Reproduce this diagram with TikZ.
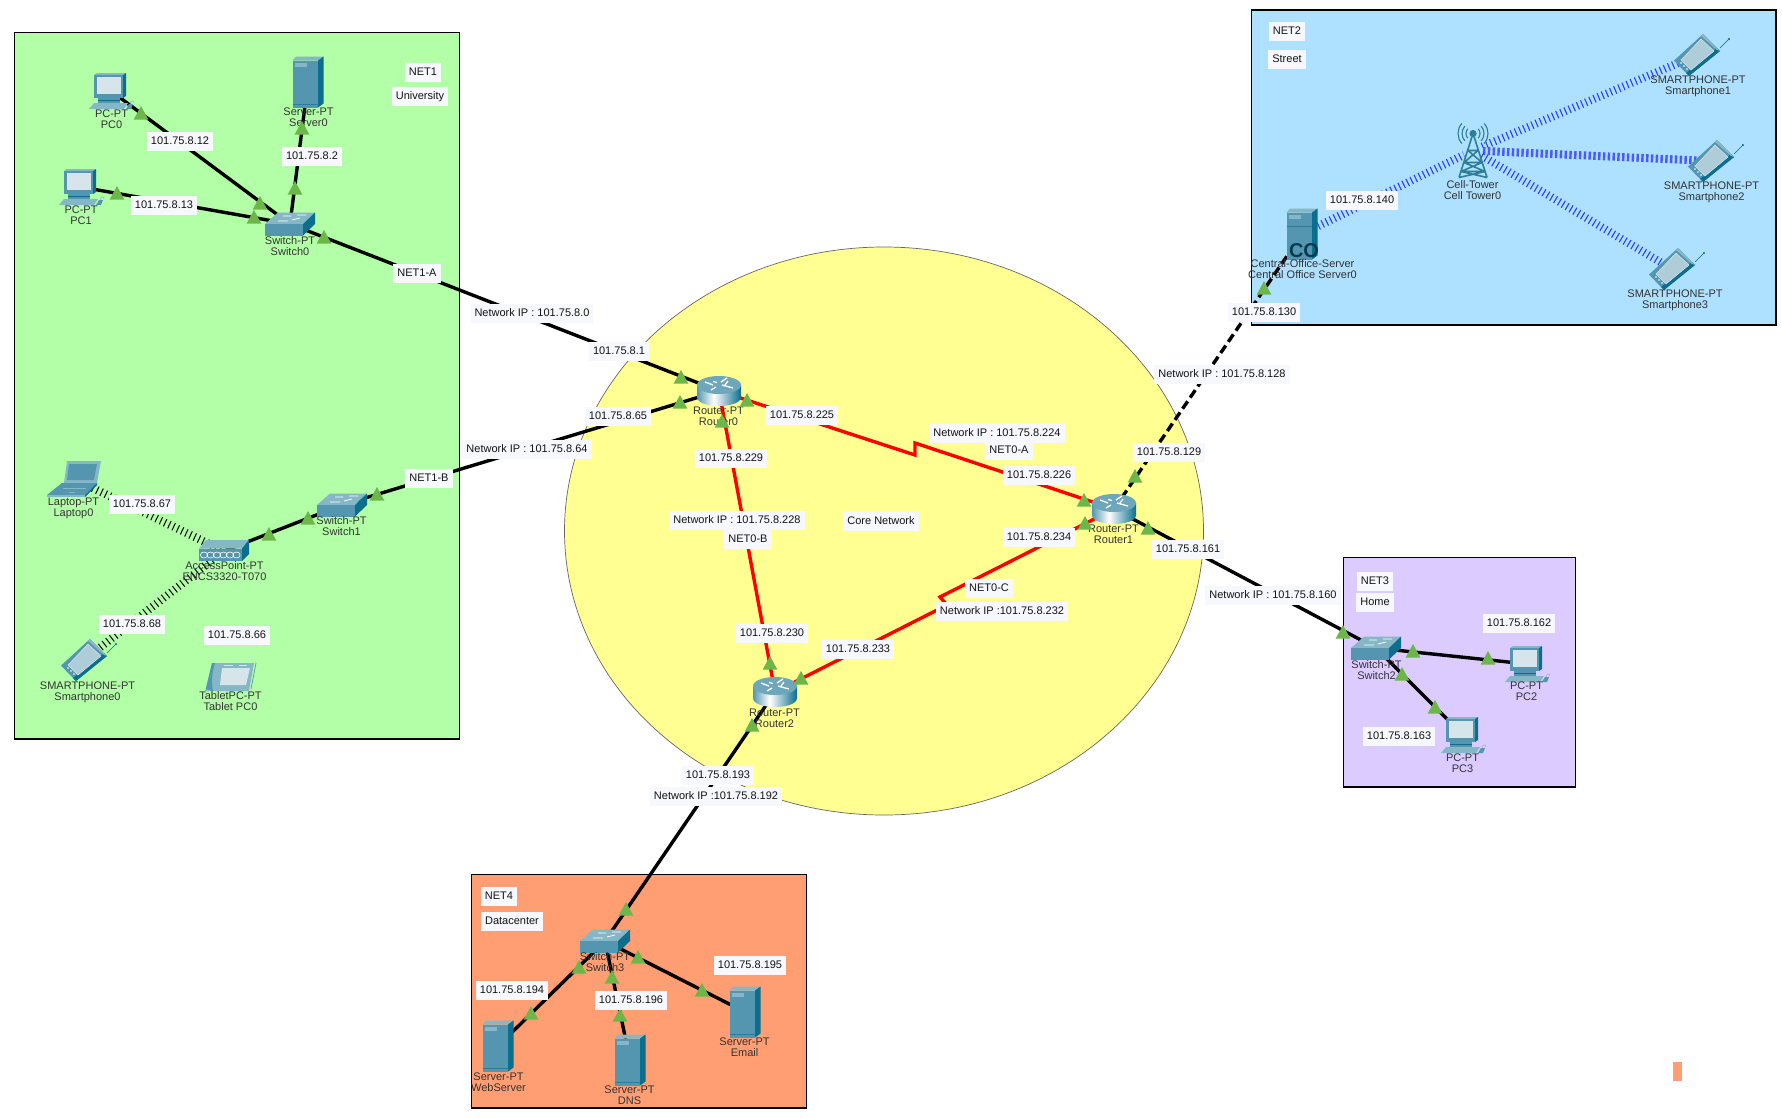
\documentclass[tikz,border=0pt]{standalone}
\usepackage{fontspec}
\setmainfont{Liberation Sans}
\definecolor{netA}{HTML}{B3FFA7}
\definecolor{netB}{HTML}{AEE0FF}
\definecolor{netC}{HTML}{DCCBFF}
\definecolor{netD}{HTML}{FF9E72}
\definecolor{coreY}{HTML}{FFFF92}
\definecolor{labbg}{HTML}{F7F8FD}
\definecolor{tricol}{HTML}{6DB649}
\definecolor{icF}{HTML}{5496B0}
\definecolor{icS}{HTML}{0A6E8C}
\definecolor{icT}{HTML}{86B7C7}
\definecolor{icL}{HTML}{D5E5EA}
\definecolor{twr}{HTML}{2E7F93}
\definecolor{wblue}{HTML}{2B3DFF}
\pgfdeclarehorizontalshading{routerbody}{100bp}{color(0bp)=(icF); color(25bp)=(icF); color(44bp)=(white); color(75bp)=(icS); color(100bp)=(icS)}
\pgfdeclarelayer{bg}
\pgfdeclarelayer{links}
\pgfdeclarelayer{top}
\pgfsetlayers{bg,links,main,top}
\tikzset{
  x=1pt,y=-1pt,
  netbox/.style={draw=black,line width=1.1pt},
  eth/.style={draw=black,line width=3.4pt},
  ethdash/.style={draw=black,line width=3.4pt,dash pattern=on 9pt off 4.5pt},
  serial/.style={draw=red,line width=3.4pt},
  wblack/.style={draw=black,line width=8pt,dash pattern=on 1pt off 3.7pt},
  wb/.style={draw=wblue,line width=8pt,dash pattern=on 1.1pt off 3.4pt},
  wbfat/.style={draw=wblue!85!white,line width=8pt,dash pattern=on 2.4pt off 2.4pt},
  lab/.style={fill=labbg,inner xsep=4pt,inner ysep=3.5pt,text height=9.3pt,text depth=2.7pt,text=black!92,font=\fontsize{11}{11}\selectfont},
  devbox/.style={inner sep=0pt,outer sep=0pt},
  devtext/.style={align=center,inner sep=0pt,text=black!80,font=\fontsize{11}{11}\selectfont},
  pcicondev/.style={minimum width=44pt,minimum height=35pt},
  servericondev/.style={minimum width=31pt,minimum height=51pt},
  switchicondev/.style={minimum width=49pt,minimum height=23pt},
  routericondev/.style={minimum width=44pt,minimum height=30pt},
  laptopicondev/.style={minimum width=54pt,minimum height=36pt},
  phoneicondev/.style={minimum width=46pt,minimum height=42pt},
  tableticondev/.style={minimum width=51pt,minimum height=29pt},
  apicondev/.style={minimum width=50pt,minimum height=21pt},
  towericondev/.style={minimum width=31pt,minimum height=55pt},
  coicondev/.style={minimum width=31pt,minimum height=51pt},
  pcicon/.pic={
    \fill[icT] (-17,-16)--(-14,-18)--(15,-18)--(12,-16)--cycle;
    \fill[icF] (-17,-16) rectangle (12,7);
    \fill[icS] (12,-16)--(15,-18)--(15,5)--(12,7)--cycle;
    \fill[icL] (-14,-14) rectangle (10,3);
    \fill[icF] (-13,7) rectangle (9,12);
    \fill[icS] (-13,9) rectangle (9,10);
    \fill[icT] (-22,18)--(-17,12)--(17,12)--(13,18)--cycle;
    \fill[icF] (15,18)--(18,13)--(22,13)--(20,18)--cycle;
    \draw[icT,line width=.5pt] (19,13) .. controls (20,9) and (23,9) .. (23,12);
  },
  servericon/.pic={
    \fill[icT] (-15.5,-21.5)--(-12,-25.5)--(15.5,-25.5)--(10,-21.5)--cycle;
    \fill[icF] (-15.5,-21.5) rectangle (10,25.5);
    \fill[icS] (10,-21.5)--(15.5,-25.5)--(15.5,21.5)--(10,25.5)--cycle;
    \fill[icT] (-13,-19) rectangle (-1,-15);
    \draw[icS!60!icF,line width=.5pt] (-15.5,22)--(10,22);
  },
  switchicon/.pic={
    \fill[icT] (-25,0)--(-12,-11.5)--(25,-11.5)--(13,0)--cycle;
    \fill[icF] (-25,0) rectangle (13,11.5);
    \fill[icS] (13,0)--(25,-11.5)--(25,0)--(13,11.5)--cycle;
    \draw[white,line width=.8pt] (-7,-8)--(1,-8) (7,-9)--(16,-9) (-12,-3)--(-2,-3) (2,-4)--(10,-6);
  },
  routericon/.pic={
    \shade[shading=routerbody] (-22,-6)--(-22,6) .. controls (-22,18) and (22,18) .. (22,6)--(22,-6)--cycle;
    \fill[icF!85!white] (0,-6) ellipse [x radius=22pt,y radius=9pt];
    \draw[white,line width=1.3pt] (-14,-9)--(-6,-6) (3,-6)--(14,-3) (2,-9)--(8,-13) (-3,-4)--(-8,-1) (-6,-9.5)--(-2,-8.5) (6,-6)--(9,-10);
  },
  laptopicon/.pic={
    \fill[icT] (-10,4)--(-7,-18)--(27,-18)--(23,4)--cycle;
    \fill[icF] (-7,1)--(-5,-15)--(23,-15)--(20,1)--cycle;
    \fill[icF] (-27,16)--(-12,4)--(23,4)--(11,16)--cycle;
    \fill[icT] (-27,16) rectangle (11,18);
    \fill[icS] (11,18)--(11,16)--(23,4)--(23,6)--cycle;
    \draw[icT,line width=.8pt] (-11,9)--(12,9) (-5,13)--(1,13);
  },
  phoneicon/.pic={
    \fill[icF] (-23,5.6)--(6,-21)--(23,-4)--(-8,21)--cycle;
    \fill[icS] (-8,21)--(23,-4)--(20,-7)--(-11,18)--cycle;
    \fill[icT] (6,-21)--(23,-4)--(20,-5)--(4,-19)--cycle;
    \fill[icL!70!icF,draw=icL,line width=.5pt] (-16,5)--(4,-16)--(17,-4)--(-6,15)--cycle;
    \fill[white] (-16,8) circle (.8pt) (-13,11) circle (.8pt) (-10,14) circle (.8pt);
    \draw[icS,line width=.6pt] (23,-7)--(32,-16);
    \fill[icS] (32,-16) circle (1.1pt);
  },
  tableticon/.pic={
    \fill[icT] (-26,14)--(-19,-14)--(23,-14)--(18,14)--cycle;
    \fill[icF] (-25,12)--(-19,-14)--(-16,-14) .. controls (-19,-4) and (-20,4) .. (-18,14)--cycle;
    \fill[icL] (-9,-9)--(19,-9)--(15,8)--(-11,8)--cycle;
    \draw[icF,line width=.7pt] (25,-14)--(20,12);
    \draw[icL,line width=.7pt] (-7,-12)--(2,-12) (8,-12)--(16,-12);
  },
  apicon/.pic={
    \fill[icT] (-25,-2.5)--(-18,-11)--(25,-11)--(18,-2.5)--cycle;
    \fill[icF] (-25,-2.5) rectangle (18,10);
    \fill[icS] (18,-2.5)--(25,-11)--(25,3)--(18,10)--cycle;
    \foreach \k in {-20,-13.5,-7,-0.5,6,12.5}
      \draw[white,line width=.6pt] (\k,4) ellipse [x radius=3.6pt,y radius=3pt];
  },
  towericon/.pic={
    \draw[twr,line width=1.6pt] (-1,-14)--(-14,27) (1,-14)--(14,27) (-9,12)--(9,12) (-5,0)--(5,0) (-9,12)--(5,0) (9,12)--(-5,0) (-12,21)--(12,21) (-12,21)--(9,12) (12,21)--(-9,12) (-14,27)--(12,21) (14,27)--(-12,21);
    \fill[twr] (0,-17) circle (3.6pt);
    \foreach \r in {7,11,15}{
      \draw[twr,line width=1.1pt] (0,-17) ++(-42:\r pt) arc (-42:42:\r pt);
      \draw[twr,line width=1.1pt] (0,-17) ++(138:\r pt) arc (138:222:\r pt);
    }
  },
  coicon/.pic={
    \fill[icT] (-15.5,-21.5)--(-12,-25.5)--(15.5,-25.5)--(10,-21.5)--cycle;
    \fill[icF] (-15.5,-21.5) rectangle (10,25.5);
    \fill[icS] (10,-21.5)--(15.5,-25.5)--(15.5,21.5)--(10,25.5)--cycle;
    \fill[icT] (-13,-19) rectangle (-1,-15);
    \draw[icS!60!icF,line width=.5pt] (-15.5,-8)--(10,-8);
    \node[inner sep=0pt,text=icS!55!black,font=\fontsize{20}{20}\selectfont\bfseries] (cotext) at (2,17) {CO};
  },
}
\newcommand{\dev}[7]{%
  \node[devbox,#4dev] (#1) at (#2,#3) {};
  \pic at (#1.center) {#4};
  \node[devtext] (#1t) at (#5,#6) {#7};
}
\begin{document}
\begin{tikzpicture}
\useasboundingbox (0,0) rectangle (1782,1117);
\begin{pgfonlayer}{bg}
  \fill[white] (0,0) rectangle (1782,1117);
  \draw[draw=black!60,fill=coreY,line width=.7pt] (884,531) ellipse [x radius=319.5pt,y radius=284pt];
  \draw[netbox,fill=netA] (14.5,32.5) rectangle (459.5,739);
  \draw[netbox,fill=netB] (1251.5,10) rectangle (1776,325);
  \draw[netbox,fill=netC] (1343.5,557.5) rectangle (1575.5,787);
  \draw[netbox,fill=netD] (471.5,874.5) rectangle (806.5,1108);
  \fill[netD] (1673,1062) rectangle (1682,1081);
\end{pgfonlayer}

% devices
\dev{pcz}{111}{91}{pcicon}{111.5}{119.5}{PC-PT\\PC0}
\dev{pca}{81}{187}{pcicon}{81}{215.5}{PC-PT\\PC1}
\dev{srvz}{308}{82}{servericon}{308.5}{117.5}{Server-PT\\Server0}
\dev{swz}{290}{224}{switchicon}{290}{246.5}{Switch-PT\\Switch0}
\dev{lapz}{74}{479}{laptopicon}{73.5}{508.5}{Laptop-PT\\Laptop0}
\dev{swa}{342}{505}{switchicon}{341.5}{526.5}{Switch-PT\\Switch1}
\dev{apz}{224}{551}{apicon}{224.5}{571.5}{AccessPoint-PT\\ENCS3320-T070}
\dev{phz}{84}{660}{phoneicon}{87.5}{692.5}{SMARTPHONE-PT\\Smartphone0}
\dev{tabz}{231}{677}{tableticon}{230.5}{701.5}{TabletPC-PT\\Tablet PC0}
\dev{coz}{1302}{234}{coicon}{1302.5}{269.5}{Central-Office-Server\\Central Office Server0}
\dev{twz}{1473}{150.5}{towericon}{1472.5}{190.5}{Cell-Tower\\Cell Tower0}
\dev{pha}{1697}{55}{phoneicon}{1698}{86.5}{SMARTPHONE-PT\\Smartphone1}
\dev{phb}{1711}{161}{phoneicon}{1711.5}{192.5}{SMARTPHONE-PT\\Smartphone2}
\dev{phc}{1672}{269}{phoneicon}{1675}{300.5}{SMARTPHONE-PT\\Smartphone3}
\dev{rz}{719}{391}{routericon}{718.5}{416.5}{Router-PT\\Router0}
\dev{ra}{1114}{509}{routericon}{1113.5}{534.5}{Router-PT\\Router1}
\dev{rb}{775}{692}{routericon}{774.5}{718.5}{Router-PT\\Router2}
\dev{swb}{1376}{648}{switchicon}{1376.5}{670.5}{Switch-PT\\Switch2}
\dev{pcb}{1527}{664}{pcicon}{1526.5}{691.5}{PC-PT\\PC2}
\dev{pcc}{1463}{735}{pcicon}{1462.5}{763.5}{PC-PT\\PC3}
\dev{swc}{605}{941}{switchicon}{605}{962.5}{Switch-PT\\Switch3}
\dev{srva}{498}{1046}{servericon}{498.5}{1082.5}{Server-PT\\WebServer}
\dev{srvb}{630}{1060}{servericon}{629.5}{1095.5}{Server-PT\\DNS}
\dev{srvc}{745}{1012}{servericon}{744.5}{1047.5}{Server-PT\\Email}

\coordinate (zaa) at (915,455);
\coordinate (zab) at (915,443);
\coordinate (zca) at (940,597);
\coordinate (zcb) at (947,605);

\begin{pgfonlayer}{links}
  \draw[eth] (pcz.center)--(swz.center);
  \draw[eth] (pca.center)--(swz.center);
  \draw[eth] (srvz.center)--(swz.center);
  \draw[eth] (swz.center)--(rz.center);
  \draw[eth] (apz.center)--(swa.center);
  \draw[eth] (swa.center)--(rz.center);
  \draw[wblack,shorten <=16pt] (lapz.center)--(apz.center);
  \draw[wblack,shorten <=16pt] (phz.center)--(apz.center);
  \draw[ethdash] (ra.center)--(coz.center);
  \draw[eth] (ra.center)--(swb.center);
  \draw[eth] (swb.center)--(pcb.center);
  \draw[eth] (swb.center)--(pcc.center);
  \draw[eth] (rb.center)--(swc.center);
  \draw[eth] (swc.center)--(srva.center);
  \draw[eth] (swc.center)--(srvb.center);
  \draw[eth] (swc.center)--(srvc.center);
  \draw[serial] (rz.center)--(zaa)--(zab)--(ra.center);
  \draw[serial] (rz.center)--(rb.center);
  \draw[serial] (ra.center)--(zca)--(zcb)--(rb.center);
  \draw[wb,shorten >=10pt] (coz.center)--(twz.center);
  \draw[wb,shorten <=10pt] (twz.center)--(pha.center);
  \draw[wbfat,shorten <=10pt] (twz.center)--(phb.center);
  \draw[wb,shorten <=10pt] (twz.center)--(phc.center);
\end{pgfonlayer}

\begin{pgfonlayer}{top}
  \foreach \tx/\ty in {141/113,117/193,260/203,254/217,295/188,302/128,324/237,
    269/534,308/518,377/494,681/377,680/402,747/400,722/421,1084/500,1085/523,
    1148/528,770/663,801/678,752/725,1135/476,1264/288,1343/632,1413/651,1488/658,
    1402/674,1435/707,626/909,638/957,579/967,612/977,620/1015,702/990,531/1013}
    \fill[tricol] (\tx,\ty-7)--(\tx+7.3,\ty+6.5)--(\tx-7.3,\ty+6.5)--cycle;

  \node[lab] (la) at (180,141) {101.75.8.12};
  \node[lab] (lb) at (312,156) {101.75.8.2};
  \node[lab] (lc) at (164,205) {101.75.8.13};
  \node[lab] (ld) at (423,72) {NET1};
  \node[lab] (le) at (420,96) {University};
  \node[lab] (lf) at (417,273) {NET1-A};
  \node[lab] (lg) at (142,504) {101.75.8.67};
  \node[lab] (lh) at (132,624) {101.75.8.68};
  \node[lab] (li) at (237,635) {101.75.8.66};
  \node[lab] (lj) at (429,478) {NET1-B};
  \node[lab] (lk) at (532,313) {Network IP : 101.75.8.0};
  \node[lab] (ll) at (619,351) {101.75.8.1};
  \node[lab] (lm) at (618,416) {101.75.8.65};
  \node[lab] (ln) at (527,449) {Network IP : 101.75.8.64};
  \node[lab] (lo) at (802,415) {101.75.8.225};
  \node[lab] (lp) at (997,433) {Network IP : 101.75.8.224};
  \node[lab] (lq) at (1009,450) {NET0-A};
  \node[lab] (lr) at (1039,475) {101.75.8.226};
  \node[lab] (ls) at (1039,537) {101.75.8.234};
  \node[lab] (lt) at (731,458) {101.75.8.229};
  \node[lab] (lu) at (737,520) {Network IP : 101.75.8.228};
  \node[lab] (lv) at (748,539) {NET0-B};
  \node[lab] (lw) at (881,521) {Core Network};
  \node[lab] (lx) at (989,588) {NET0-C};
  \node[lab] (ly) at (1002,611) {Network IP :101.75.8.232};
  \node[lab] (lz) at (772,633) {101.75.8.230};
  \node[lab] (maa) at (858,649) {101.75.8.233};
  \node[lab] (mab) at (718,775) {101.75.8.193};
  \node[lab] (mac) at (716,796) {Network IP :101.75.8.192};
  \node[lab] (mad) at (1287,31) {NET2};
  \node[lab] (mae) at (1287,59) {Street};
  \node[lab] (maf) at (1362,200) {101.75.8.140};
  \node[lab] (mag) at (1264,312) {101.75.8.130};
  \node[lab] (mah) at (1222,374) {Network IP : 101.75.8.128};
  \node[lab] (mai) at (1169,452) {101.75.8.129};
  \node[lab] (maj) at (1188,549) {101.75.8.161};
  \node[lab] (mak) at (1273,595) {Network IP : 101.75.8.160};
  \node[lab] (mal) at (1375,581) {NET3};
  \node[lab] (mam) at (1375,602) {Home};
  \node[lab] (man) at (1519,623) {101.75.8.162};
  \node[lab] (mao) at (1399,736) {101.75.8.163};
  \node[lab] (map) at (499,896) {NET4};
  \node[lab] (maq) at (512,921) {Datacenter};
  \node[lab] (mar) at (512,990) {101.75.8.194};
  \node[lab] (mas) at (631,1000) {101.75.8.196};
  \node[lab] (mat) at (750,965) {101.75.8.195};
\end{pgfonlayer}
\end{tikzpicture}
\end{document}
